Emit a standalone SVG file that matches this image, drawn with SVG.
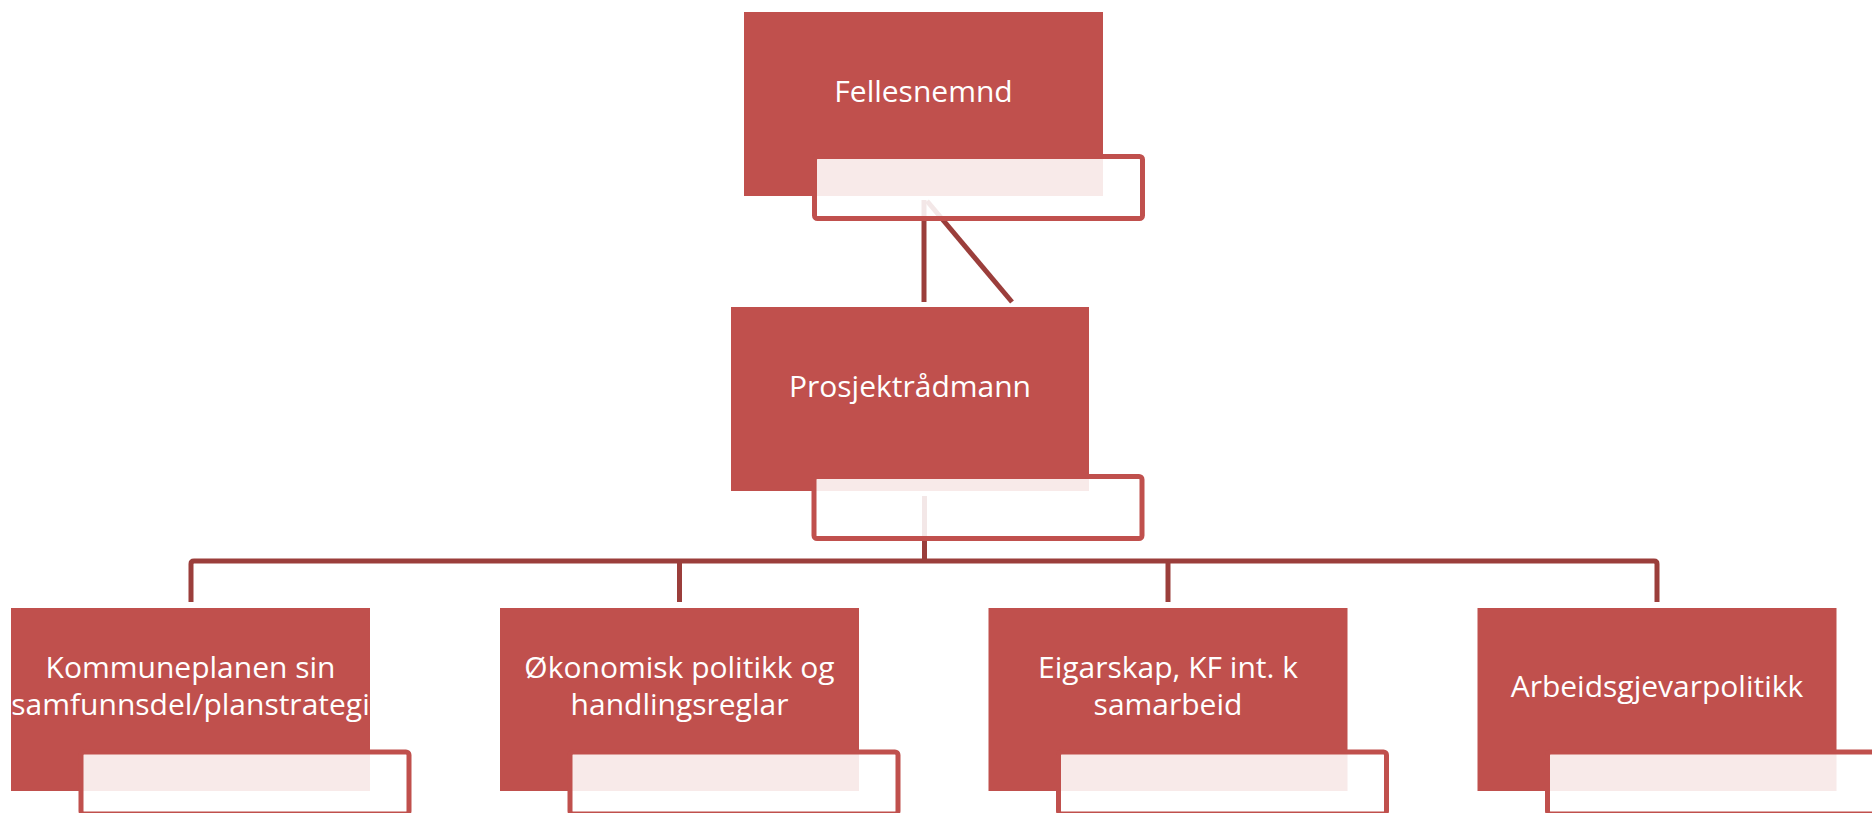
<svg xmlns="http://www.w3.org/2000/svg" width="1872" height="813" viewBox="0 0 1872 813">
<style>
.box{fill:#C0504D;}
.lbl{fill:#FFFFFF;fill-opacity:0.88;stroke:#C0504D;stroke-width:5;}
.con{fill:none;stroke:#9B3E3B;stroke-width:5;stroke-linejoin:round;}
.t{font-family:"Open Sans","Liberation Sans",sans-serif;font-size:30px;fill:#FFFFFF;text-anchor:middle;}
</style>
<rect width="1872" height="813" fill="#FFFFFF"/>
<g id="connectors">
<line class="con" x1="924" y1="200" x2="924" y2="302"/>
<line class="con" x1="927" y1="201" x2="1012" y2="302"/>
<line class="con" x1="924.5" y1="496" x2="924.5" y2="561"/>
<path class="con" d="M191,602 V564 Q191,561 194,561 H1654 Q1657,561 1657,564 V602"/>
<line class="con" x1="679.5" y1="561" x2="679.5" y2="602"/>
<line class="con" x1="1168" y1="561" x2="1168" y2="602"/>
</g>
<g id="node-fellesnemnd">
<rect class="box" x="744" y="12" width="359" height="184"/>
<rect class="lbl" x="814.5" y="156.5" width="328" height="62" rx="3"/>
<text class="t" x="923.5" y="101.5">Fellesnemnd</text>
</g>
<g id="node-prosjektradmann">
<rect class="box" x="731" y="307" width="358" height="184"/>
<rect class="lbl" x="814" y="476.5" width="328" height="62" rx="3"/>
<text class="t" x="910" y="397">Prosjektrådmann</text>
</g>
<g id="node-kommuneplanen">
<rect class="box" x="11" y="608" width="359" height="183"/>
<rect class="lbl" x="81" y="752" width="328" height="62" rx="3"/>
<text class="t" x="190.5" y="678">Kommuneplanen sin</text>
<text class="t" x="190.5" y="715">samfunnsdel/planstrategi</text>
</g>
<g id="node-okonomisk">
<rect class="box" x="500" y="608" width="359" height="183"/>
<rect class="lbl" x="570" y="752" width="328" height="62" rx="3"/>
<text class="t" x="679.5" y="678">Økonomisk politikk og</text>
<text class="t" x="679.5" y="715">handlingsreglar</text>
</g>
<g id="node-eigarskap">
<rect class="box" x="988.5" y="608" width="359" height="183"/>
<rect class="lbl" x="1058.5" y="752" width="328" height="62" rx="3"/>
<text class="t" x="1168" y="678">Eigarskap, KF int. k</text>
<text class="t" x="1168" y="715">samarbeid</text>
</g>
<g id="node-arbeidsgjevar">
<rect class="box" x="1477.5" y="608" width="359" height="183"/>
<rect class="lbl" x="1547.5" y="752" width="328" height="62" rx="3"/>
<text class="t" x="1657" y="697">Arbeidsgjevarpolitikk</text>
</g>
</svg>
